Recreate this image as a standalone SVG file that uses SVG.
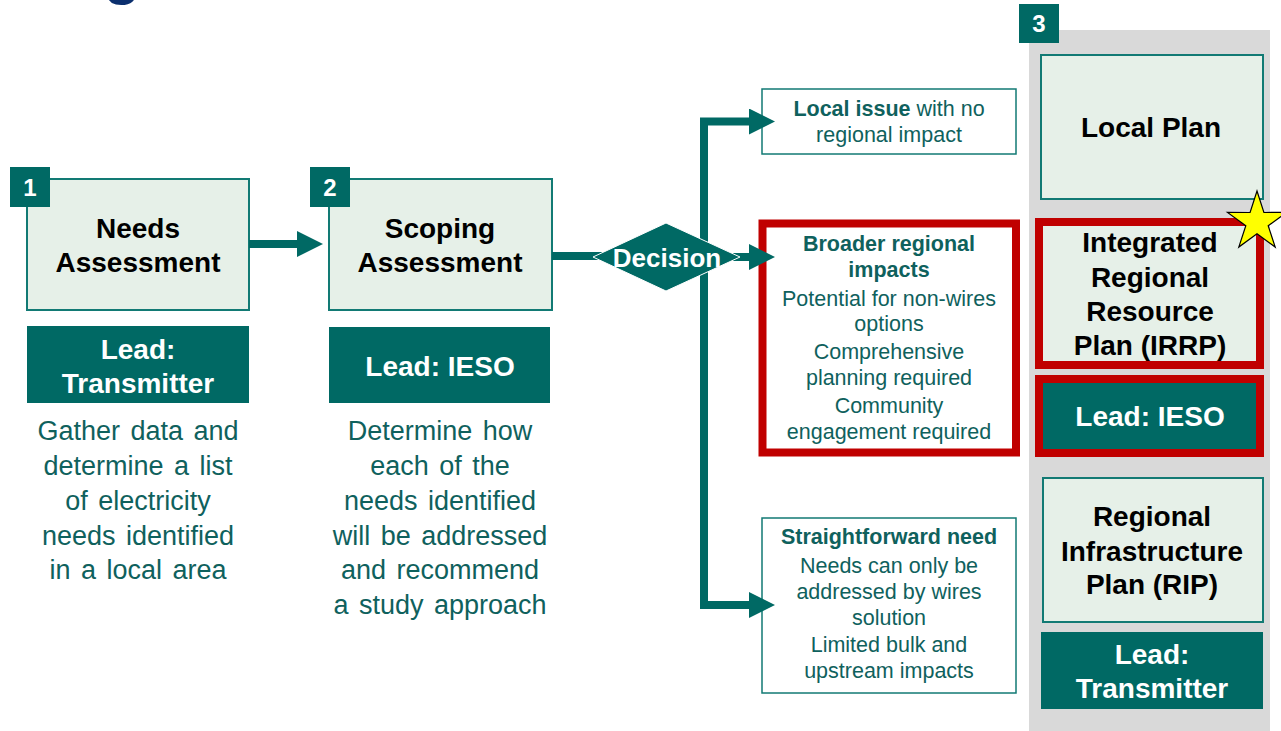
<svg xmlns="http://www.w3.org/2000/svg" width="1281" height="731" viewBox="0 0 1281 731">
  <defs>
    <marker id="head" markerUnits="userSpaceOnUse" markerWidth="26" markerHeight="26" viewBox="0 0 26 26" refX="1" refY="13" orient="auto">
      <path d="M0,0 L26,13 L0,26 Z" fill="#006964"/>
    </marker>
  </defs>
  <style>
    text { font-family: "Liberation Sans", Arial, sans-serif; text-anchor: middle; }
    .step { fill: #E6F0E8; stroke: #127A74; stroke-width: 2; }
    .badge { fill: #006964; }
    .num { fill: #fff; font-weight: bold; font-size: 24px; }
    .title { fill: #000; font-weight: bold; font-size: 28px; }
    .lead { fill: #006964; }
    .leadt { fill: #fff; font-weight: bold; font-size: 28px; }
    .desc { fill: #0F615D; font-size: 27px; word-spacing: 3px; }
    .opt { fill: #fff; stroke: #127A74; stroke-width: 1.5; }
    .optt { fill: #0F615D; font-size: 21.5px; }
    .b { font-weight: bold; }
    .red { stroke: #C00000; stroke-width: 8; }
    .wire { fill: none; stroke: #006964; stroke-width: 8; stroke-linejoin: miter; }
  </style>

  <rect width="1281" height="731" fill="#fff"/>

  <!-- page heading, cut off by the top edge -->
  <text x="122" y="-7" style="font-size:60px;font-weight:bold;fill:#0B2F6E">g</text>

  <!-- stage 3 column background -->
  <rect id="stage3-column" x="1029" y="30" width="241" height="701" fill="#D9D9D9"/>

  <!-- stage 1 -->
  <g id="needs-assessment">
    <rect class="step" x="27" y="179" width="222" height="131"/>
    <rect class="badge" x="10" y="167" width="40" height="40"/>
    <text class="num" x="30" y="196">1</text>
    <text class="title" x="138" y="238">Needs</text>
    <text class="title" x="138" y="272">Assessment</text>
  </g>
  <g id="lead-transmitter-1">
    <rect class="lead" x="27" y="326" width="222" height="77"/>
    <text class="leadt" x="138" y="359">Lead:</text>
    <text class="leadt" x="138" y="393">Transmitter</text>
  </g>
  <g id="needs-description">
    <text class="desc" x="138" y="440">Gather data and</text>
    <text class="desc" x="138" y="475">determine a list</text>
    <text class="desc" x="138" y="510">of electricity</text>
    <text class="desc" x="138" y="545">needs identified</text>
    <text class="desc" x="138" y="579">in a local area</text>
  </g>

  <!-- stage 2 -->
  <g id="scoping-assessment">
    <rect class="step" x="329" y="179" width="223" height="131"/>
    <rect class="badge" x="310" y="167" width="40" height="40"/>
    <text class="num" x="330" y="196">2</text>
    <text class="title" x="440" y="238">Scoping</text>
    <text class="title" x="440" y="272">Assessment</text>
  </g>
  <g id="lead-ieso-2">
    <rect class="lead" x="329" y="327" width="221" height="76"/>
    <text class="leadt" x="440" y="376">Lead: IESO</text>
  </g>
  <g id="scoping-description">
    <text class="desc" x="440" y="440">Determine how</text>
    <text class="desc" x="440" y="475">each of the</text>
    <text class="desc" x="440" y="510">needs identified</text>
    <text class="desc" x="440" y="545">will be addressed</text>
    <text class="desc" x="440" y="579">and recommend</text>
    <text class="desc" x="440" y="614">a study approach</text>
  </g>

  <!-- outcomes -->
  <g id="local-issue">
    <rect class="opt" x="762" y="89" width="254" height="65"/>
    <text class="optt" x="889" y="116"><tspan class="b">Local issue</tspan> with no</text>
    <text class="optt" x="889" y="142">regional impact</text>
  </g>
  <g id="broader-impacts">
    <rect x="762.5" y="223.5" width="253.5" height="229" fill="#fff" class="red"/>
    <text class="optt b" x="889" y="251">Broader regional</text>
    <text class="optt b" x="889" y="277">impacts</text>
    <text class="optt" x="889" y="306">Potential for non-wires</text>
    <text class="optt" x="889" y="331">options</text>
    <text class="optt" x="889" y="359">Comprehensive</text>
    <text class="optt" x="889" y="385">planning required</text>
    <text class="optt" x="889" y="413">Community</text>
    <text class="optt" x="889" y="439">engagement required</text>
  </g>
  <g id="straightforward-need">
    <rect class="opt" x="762" y="518" width="254" height="175"/>
    <text class="optt b" x="889" y="544">Straightforward need</text>
    <text class="optt" x="889" y="573">Needs can only be</text>
    <text class="optt" x="889" y="599">addressed by wires</text>
    <text class="optt" x="889" y="625">solution</text>
    <text class="optt" x="889" y="652">Limited bulk and</text>
    <text class="optt" x="889" y="678">upstream impacts</text>
  </g>

  <!-- stage 3 plans -->
  <g id="stage3-badge">
    <rect class="badge" x="1019" y="4" width="40" height="39"/>
    <text class="num" x="1039" y="32">3</text>
  </g>
  <g id="local-plan">
    <rect class="step" x="1041" y="55" width="222" height="144"/>
    <text class="title" x="1151" y="137">Local Plan</text>
  </g>
  <g id="irrp">
    <rect x="1039" y="222" width="221" height="143" fill="#E6F0E8" class="red"/>
    <text class="title" x="1150" y="252">Integrated</text>
    <text class="title" x="1150" y="287">Regional</text>
    <text class="title" x="1150" y="321">Resource</text>
    <text class="title" x="1150" y="355">Plan (IRRP)</text>
  </g>
  <g id="lead-ieso-3">
    <rect x="1039" y="379" width="221" height="74" fill="#006964" class="red"/>
    <text class="leadt" x="1150" y="426">Lead: IESO</text>
  </g>
  <g id="highlight-star">
    <polygon fill="#FFFF00" stroke="#000" stroke-width="1.2"
      points="1257,191 1263.9,212.5 1286.5,212.4 1268.2,225.7 1275.2,247.1 1257,233.8 1238.8,247.1 1245.8,225.7 1227.5,212.4 1250.1,212.5"/>
  </g>
  <g id="rip">
    <rect class="step" x="1043" y="478" width="220" height="144"/>
    <text class="title" x="1152" y="526">Regional</text>
    <text class="title" x="1152" y="561">Infrastructure</text>
    <text class="title" x="1152" y="594">Plan (RIP)</text>
  </g>
  <g id="lead-transmitter-3">
    <rect class="lead" x="1041" y="632" width="222" height="77"/>
    <text class="leadt" x="1152" y="664">Lead:</text>
    <text class="leadt" x="1152" y="698">Transmitter</text>
  </g>

  <!-- connectors, drawn over the boxes they point into -->
  <g id="connectors">
    <path class="wire" d="M249,244 H298" marker-end="url(#head)"/>
    <path class="wire" d="M552,256 H610"/>
    <path class="wire" d="M704,605 V121.5 H750" marker-end="url(#head)"/>
    <path class="wire" d="M704,121.5 V605 H750" marker-end="url(#head)"/>
    <path class="wire" d="M720,257 H750" marker-end="url(#head)"/>
  </g>

  <!-- decision sits on top of the branching line -->
  <g id="decision">
    <polygon points="593,257 666,223 740,257 666,291" fill="#006964" stroke="#fff" stroke-width="1"/>
    <text x="667" y="267" style="fill:#fff;font-weight:bold;font-size:26px">Decision</text>
  </g>
</svg>
